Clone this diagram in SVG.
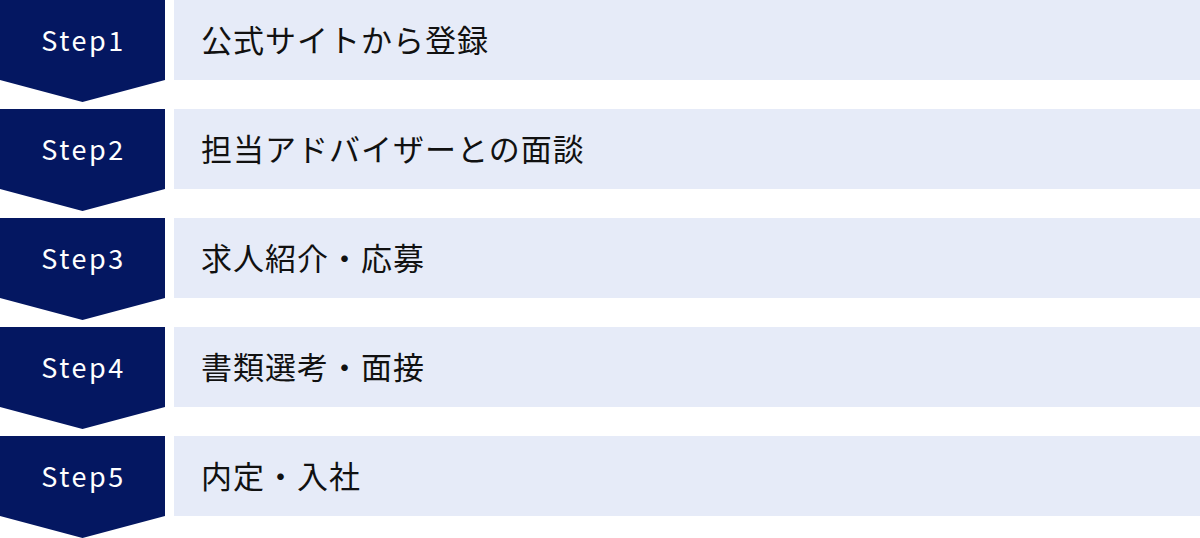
<svg xmlns="http://www.w3.org/2000/svg" width="1200" height="538" viewBox="0 0 1200 538">
<style>
.chev{fill:#041761}
.box{fill:#e6ebf8}
.step{font-family:"Noto Sans CJK JP","Noto Sans",sans-serif;font-size:27px;fill:#ffffff;text-anchor:middle;letter-spacing:2.5px}
.lbl{font-family:"Noto Sans CJK JP","Noto Sans",sans-serif;font-size:31px;fill:#111111;letter-spacing:1px}
</style>
<defs>
<path id="chev" d="M0 0H165V80L82.5 102L0 80Z"/>
</defs>
<rect width="1200" height="538" fill="#ffffff"/>
<g id="step1" transform="translate(0,0)">
<use href="#chev" class="chev"/><rect class="box" x="174" y="0" width="1026" height="80"/>
<text class="step" x="83.5" y="51">Step1</text><text class="lbl" x="201" y="52">公式サイトから登録</text>
</g>
<g id="step2" transform="translate(0,109)">
<use href="#chev" class="chev"/><rect class="box" x="174" y="0" width="1026" height="80"/>
<text class="step" x="83.5" y="51">Step2</text><text class="lbl" x="201" y="52">担当アドバイザーとの面談</text>
</g>
<g id="step3" transform="translate(0,218)">
<use href="#chev" class="chev"/><rect class="box" x="174" y="0" width="1026" height="80"/>
<text class="step" x="83.5" y="51">Step3</text><text class="lbl" x="201" y="52">求人紹介・応募</text>
</g>
<g id="step4" transform="translate(0,327)">
<use href="#chev" class="chev"/><rect class="box" x="174" y="0" width="1026" height="80"/>
<text class="step" x="83.5" y="51">Step4</text><text class="lbl" x="201" y="52">書類選考・面接</text>
</g>
<g id="step5" transform="translate(0,436)">
<use href="#chev" class="chev"/><rect class="box" x="174" y="0" width="1026" height="80"/>
<text class="step" x="83.5" y="51">Step5</text><text class="lbl" x="201" y="52">内定・入社</text>
</g>
<g id="connectors"/>
</svg>
